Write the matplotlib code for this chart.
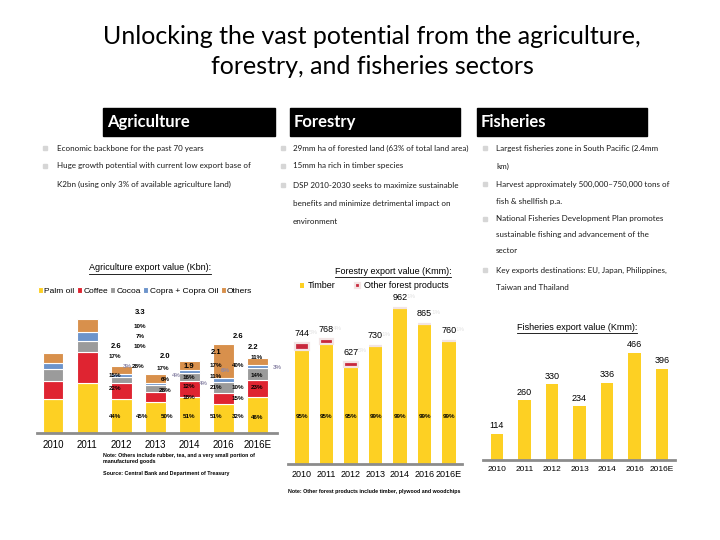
import matplotlib
matplotlib.use("Agg")
import matplotlib.pyplot as plt
from matplotlib.patches import Rectangle
from matplotlib.lines import Line2D

years = ["2010", "2011", "2012", "2013", "2014", "2016", "2016E"]

# agriculture export value (Kbn), stacked from the bottom
palm_oil = [1.00, 1.46, 0.99, 0.89, 1.05, 0.83, 1.04]
coffee = [0.51, 0.90, 0.47, 0.31, 0.46, 0.34, 0.50]
cocoa = [0.34, 0.32, 0.16, 0.19, 0.22, 0.32, 0.34]
copra = [0.17, 0.26, 0.10, 0.06, 0.10, 0.10, 0.08]
others = [0.29, 0.36, 0.23, 0.26, 0.26, 0.99, 0.23]
agri_names = ["Palm oil", "Coffee", "Cocoa", "Copra + Copra Oil", "Others"]

# labels as they sit on the slide (text, bar index, Kbn)
agri_labels = [
    ("3.3", 2.55, 3.51), ("10%", 2.55, 3.08), ("7%", 2.55, 2.79), ("10%", 2.55, 2.50),
    ("28%", 2.49, 1.94), ("45%", 2.60, 0.49),
    ("2.6", 1.84, 2.50), ("17%", 1.81, 2.21), ("15%", 1.81, 1.68), ("22%", 1.81, 1.28),
    ("44%", 1.81, 0.49),
    ("2.0", 3.28, 2.21), ("17%", 3.22, 1.86), ("6%", 3.28, 1.54), ("28%", 3.28, 1.22),
    ("50%", 3.34, 0.49),
    ("1.9", 3.98, 1.94), ("16%", 3.98, 1.60), ("12%", 3.98, 1.36), ("18%", 3.98, 1.04),
    ("51%", 3.98, 0.49),
    ("2.1", 4.77, 2.35), ("17%", 4.77, 1.97), ("11%", 4.77, 1.65), ("21%", 4.77, 1.31),
    ("51%", 4.77, 0.49),
    ("2.6", 5.41, 2.79), ("40%", 5.41, 1.97), ("10%", 5.41, 1.31), ("15%", 5.41, 0.99),
    ("32%", 5.41, 0.49),
    ("2.2", 5.85, 2.47), ("11%", 5.97, 2.18), ("14%", 5.97, 1.68), ("23%", 5.97, 1.31),
    ("46%", 5.97, 0.44),
]
agri_faint = [("3%", 2.19, 1.94), ("4%", 3.60, 1.68), ("4%", 4.39, 1.45),
              ("6%", 5.06, 1.80), ("3%", 6.56, 1.89)]

# forestry export value (Kmm)
timber = [703, 738, 599, 730, 962, 865, 760]
other_forest = [41, 30, 28, 0, 0, 0, 0]
timber_share = ["95%", "95%", "95%", "99%", "99%", "99%", "99%"]
other_share = ["5%", "4%", "5%", "1%", "1%", "1%", "1%"]

# fisheries export value (Kmm)
fish = [114, 260, 330, 234, 336, 466, 396]

YELLOW = "#FDD023"
RED = "#DF2431"
GREY = "#9B9B9B"
BLUE = "#6C94CB"
ORANGE = "#D8904C"
agri_colors = [YELLOW, RED, GREY, BLUE, ORANGE]

TXT = "Lato"
NUM = "Liberation Sans"

fig = plt.figure(figsize=(7.2, 5.4), dpi=100)


def fx(px):
    return px / 720


def fy(py):
    return 1 - py / 540


def underline(t, lw=0.6):
    fig.canvas.draw()
    bb = t.get_window_extent().transformed(fig.transFigure.inverted())
    fig.add_artist(Line2D([bb.x0, bb.x1], [bb.y0 - 0.002, bb.y0 - 0.002],
                          transform=fig.transFigure, color="black", lw=lw))


# title
fig.text(fx(372), fy(36), "Unlocking the vast potential from the agriculture,",
         ha="center", va="center", fontsize=18, family=TXT)
fig.text(fx(372), fy(66), "forestry, and fisheries sectors",
         ha="center", va="center", fontsize=18, family=TXT)

# black header boxes
for x0, x1, name in [(103, 275, "Agriculture"), (290, 460, "Forestry"), (477, 647, "Fisheries")]:
    fig.add_artist(Rectangle((fx(x0), fy(136)), fx(x1) - fx(x0), fy(108) - fy(136),
                             transform=fig.transFigure, color="black"))
    fig.text(fx(x0 + 4), fy(122), name, ha="left", va="center", color="white",
             fontsize=12, fontweight="bold", family=TXT)

# bullet text
bullets = [
    (45, 57, [(148, "Economic backbone for the past 70 years", True),
              (166, "Huge growth potential with current low export base of", True),
              (184, "K2bn (using only 3% of available agriculture land)", False)]),
    (283, 293, [(148, "29mm ha of forested land (63% of total land area)", True),
                (166, "15mm ha rich in timber species", True),
                (185, "DSP 2010-2030 seeks to maximize sustainable", True),
                (203, "benefits and minimize detrimental impact on", False),
                (221, "environment", False)]),
    (485, 496, [(148, "Largest fisheries zone in South Pacific (2.4mm", True),
                (166, "km)", False),
                (184, "Harvest approximately 500,000\u2013750,000 tons of", True),
                (202, "fish & shellfish p.a.", False),
                (219, "National Fisheries Development Plan promotes", True),
                (235, "sustainable fishing and advancement of the", False),
                (250, "sector", False),
                (270, "Key exports destinations: EU, Japan, Philippines,", True),
                (288, "Taiwan and Thailand", False)]),
]
for bx, tx, lines in bullets:
    for y, s, has_bullet in lines:
        if has_bullet:
            fig.add_artist(Rectangle((fx(bx - 2), fy(y + 2)), 4 / 720, 4 / 540,
                                     transform=fig.transFigure, color="#D6D6D6"))
        fig.text(fx(tx), fy(y), s, ha="left", va="center", fontsize=5.8,
                 family=TXT, color="#1A1A1A")


def style_axis(ax):
    for side in ["top", "right", "left"]:
        ax.spines[side].set_visible(False)
    ax.spines["bottom"].set_color("#8C8C8C")
    ax.spines["bottom"].set_linewidth(2)
    ax.set_yticks([])
    ax.set_xticks(range(len(years)))
    ax.set_xticklabels(years, family=NUM)
    ax.patch.set_alpha(0)


# agriculture chart
ax1 = fig.add_axes([fx(37), fy(433), fx(277) - fx(37), fy(300) - fy(433)])
x = list(range(len(years)))
bottom = [0.0] * len(years)
for vals, col, name in zip([palm_oil, coffee, cocoa, copra, others], agri_colors, agri_names):
    ax1.bar(x, vals, 0.61, bottom=bottom, color=col, edgecolor="white", linewidth=0.8,
            label=name)
    bottom = [b + v for b, v in zip(bottom, vals)]
ax1.set_xlim(-0.47, 6.56)
ax1.set_ylim(0, 3.86)
style_axis(ax1)
ax1.tick_params(axis="x", length=0, pad=4.7, labelsize=7)
for s, xi, yi in agri_labels:
    size = 5.5 if "." in s else 4.5
    ax1.text(xi, yi, s, ha="center", va="center", fontsize=size, fontweight="bold",
             family=NUM, clip_on=False)
for s, xi, yi in agri_faint:
    ax1.text(xi, yi, s, ha="center", va="center", fontsize=4.5, fontweight="bold",
             family=NUM, color="#8D88A8", clip_on=False)

t = fig.text(fx(150), fy(268), "Agriculture export value (Kbn):", ha="center", va="center",
             fontsize=6.5, family=NUM)
underline(t)
h, l = ax1.get_legend_handles_labels()
fig.legend(h, l, loc="center", bbox_to_anchor=(fx(145), fy(291)), ncol=5, frameon=False,
           prop={"family": NUM, "size": 6}, handlelength=0.6, handleheight=0.6,
           handletextpad=0.15, columnspacing=0.3, borderpad=0)

fig.text(fx(103), fy(455), "Note: Others include rubber, tea, and a very small portion of",
         fontsize=3.8, family=NUM, fontweight="bold", va="center")
fig.text(fx(103), fy(462), "manufactured goods", fontsize=3.8, family=NUM,
         fontweight="bold", va="center")
fig.text(fx(103), fy(474), "Source: Central Bank and Department of Treasury", fontsize=3.8,
         family=NUM, fontweight="bold", va="center")

# forestry chart
ax2 = fig.add_axes([fx(288), fy(464), fx(462) - fx(288), fy(290) - fy(464)])
ax2.bar(x, timber, 0.57, color=YELLOW, label="Timber")
ax2.bar(x, other_forest, 0.57, bottom=timber, color="#C8283C", edgecolor="#F3E4E4",
        linewidth=1.6, label="Other forest products")
ax2.set_xlim(-0.571, 6.53)
ax2.set_ylim(0, 1073)
style_axis(ax2)
ax2.tick_params(axis="x", length=0, pad=4, labelsize=6.5)
for i in x:
    total = timber[i] + other_forest[i]
    ax2.annotate(str(total), (i, total), xytext=(0, 4), textcoords="offset points",
                 ha="center", va="bottom", fontsize=6.5, family=NUM)
    ax2.text(i, 296, timber_share[i], ha="center", va="center", fontsize=4.5,
             fontweight="bold", family=NUM)
    ax2.text(i + 0.45, total + 70, other_share[i], ha="center", va="center", fontsize=4.5,
             family=NUM, color="#E2E2E2", clip_on=False)

t = fig.text(fx(393), fy(271), "Forestry export value (Kmm):", ha="center", va="center",
             fontsize=6.5, family=NUM)
underline(t)
h, l = ax2.get_legend_handles_labels()
fig.legend(h, l, loc="center", bbox_to_anchor=(fx(374), fy(286)), ncol=2, frameon=False,
           prop={"family": NUM, "size": 6.5}, handlelength=0.5, handleheight=0.5,
           handletextpad=0.4, columnspacing=2.2, borderpad=0)
fig.text(fx(288), fy(492), "Note: Other forest products include timber, plywood and woodchips",
         fontsize=3.8, family=NUM, fontweight="bold", va="center")

# fisheries chart
ax3 = fig.add_axes([fx(483), fy(460), fx(675) - fx(483), fy(340) - fy(460)])
ax3.bar(x, fish, 0.45, color=YELLOW)
ax3.set_xlim(-0.509, 6.47)
ax3.set_ylim(0, 521)
style_axis(ax3)
ax3.tick_params(axis="x", length=0, pad=4, labelsize=6)
for i in x:
    ax3.annotate(str(fish[i]), (i, fish[i]), xytext=(0, 2.5), textcoords="offset points",
                 ha="center", va="bottom", fontsize=6.5, family=NUM)
t = fig.text(fx(577), fy(327), "Fisheries export value (Kmm):", ha="center", va="center",
             fontsize=6.5, family=NUM)
underline(t)

fig.savefig("out.png", dpi=100)
